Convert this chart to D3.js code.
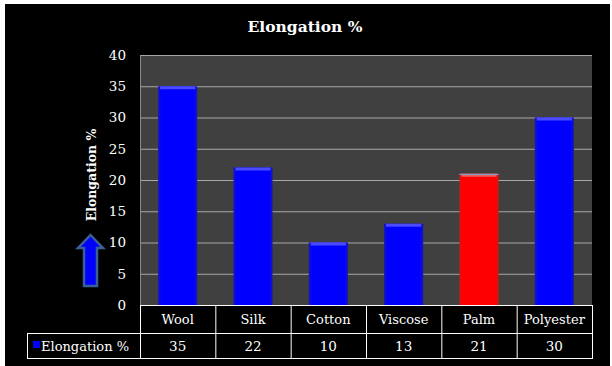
<!DOCTYPE html>
<html><head><meta charset="utf-8">
<script src="https://cdn.jsdelivr.net/npm/d3@7"></script>
<style>body{margin:0;background:#fff}svg{display:block}</style>
</head><body>
<script>
const categories = ["Wool","Silk","Cotton","Viscose","Palm","Polyester"];
const values = [35,22,10,13,21,30];
const seriesName = "Elongation %";
const yTicks = [0,5,10,15,20,25,30,35,40];
const highlight = "Palm";

const W=612,H=366;
const svg=d3.select("body").append("svg").attr("width",W).attr("height",H);
const font="'DejaVu Serif', 'Liberation Serif', serif";
svg.append("rect").attr("x",5).attr("y",4).attr("width",605).attr("height",362).attr("fill","#000");

const defs=svg.append("defs");
function grad(id,c1,c2){
  const g=defs.append("linearGradient").attr("id",id).attr("x1","0").attr("x2","1").attr("y1","0").attr("y2","0");
  g.append("stop").attr("offset","0").attr("stop-color",c2);
  g.append("stop").attr("offset","0.08").attr("stop-color",c1);
  g.append("stop").attr("offset","0.92").attr("stop-color",c1);
  g.append("stop").attr("offset","1").attr("stop-color",c2);
}
grad("gb","#0000ff","#1a1ab0");
grad("gr","#ff0000","#d01818");

const L=140,R=592,T=55,B=305;
const x=d3.scaleBand().domain(categories).range([L,R]).paddingInner(0.48).paddingOuter(0.24);
const xb=d3.scaleBand().domain(categories).range([L,R]);
const y=d3.scaleLinear().domain([0,40]).range([B,T]);

svg.append("rect").attr("x",L).attr("y",T).attr("width",R-L).attr("height",B-T).attr("fill","#404040");
svg.append("g").selectAll("line").data(yTicks).join("line")
  .attr("x1",L).attr("x2",R).attr("y1",d=>y(d)+0.5).attr("y2",d=>y(d)+0.5)
  .attr("stroke","#a8a8a8").attr("stroke-width",1);
svg.append("line").attr("x1",L+0.5).attr("x2",L+0.5).attr("y1",T).attr("y2",B).attr("stroke","#8a8a8a");

const yAxis=d3.axisLeft(y).tickValues(yTicks).tickSize(0).tickPadding(14);
const ga=svg.append("g").attr("transform",`translate(${L},0)`).call(yAxis);
ga.select(".domain").remove();
ga.selectAll("text").attr("fill","#fff").attr("font-family",font).attr("font-size",13.5);

const bars=svg.append("g").selectAll("g").data(categories).join("g");
bars.append("rect").attr("x",d=>x(d)).attr("width",x.bandwidth())
  .attr("y",(d,i)=>y(values[i])).attr("height",(d,i)=>y(0)-y(values[i]))
  .attr("fill",d=>d===highlight?"url(#gr)":"url(#gb)");
bars.append("rect").attr("x",d=>x(d)+2).attr("width",x.bandwidth()-4)
  .attr("y",(d,i)=>y(values[i])).attr("height",3)
  .attr("fill",d=>d===highlight?"#f06060":"#4a4aff");
bars.filter(d=>d===highlight).append("rect").attr("x",d=>x(d)).attr("width",x.bandwidth())
  .attr("y",(d,i)=>y(values[categories.indexOf(d)])).attr("height",1.2).attr("fill","#7fa0c8");

// title
svg.append("text").attr("x",305).attr("y",32).attr("text-anchor","middle").attr("fill","#fff")
  .attr("font-family",font).attr("font-weight","bold").attr("font-size",15.5).text(seriesName);
// y title
svg.append("text").attr("transform","translate(96,175) rotate(-90)").attr("text-anchor","middle")
  .attr("fill","#fff").attr("font-family",font).attr("font-weight","bold").attr("font-size",12.5).text(seriesName);
// arrow
svg.append("path").attr("d","M90.5,235 L103,248 L97,248 L97,286 L84,286 L84,248 L78,248 Z")
  .attr("fill","#0000ff").attr("stroke","#3a5f96").attr("stroke-width",2.5).attr("stroke-linejoin","miter");

// data table
const r1=305,r2=333,r3=358,tl=27;
const tg=svg.append("g").attr("stroke","#fff").attr("stroke-width",1).attr("fill","none");
tg.append("line").attr("x1",L).attr("x2",R).attr("y1",r1+0.5).attr("y2",r1+0.5);
tg.append("line").attr("x1",tl).attr("x2",R).attr("y1",r2+0.5).attr("y2",r2+0.5);
tg.append("line").attr("x1",tl).attr("x2",R).attr("y1",r3+0.5).attr("y2",r3+0.5);
tg.append("line").attr("x1",tl+0.5).attr("x2",tl+0.5).attr("y1",r2).attr("y2",r3+1);
const cols=categories.map(c=>xb(c)).concat([R]);
tg.selectAll("line.v").data(cols).join("line").attr("class","v")
  .attr("x1",d=>d+0.5).attr("x2",d=>d+0.5).attr("y1",r1).attr("y2",r3+1);

svg.append("g").selectAll("text").data(categories).join("text")
  .attr("x",d=>xb(d)+xb.bandwidth()/2).attr("y",(r1+r2)/2+5).attr("text-anchor","middle")
  .attr("fill","#fff").attr("font-family",font).attr("font-size",13).text(d=>d);
svg.append("g").selectAll("text").data(values).join("text")
  .attr("x",(d,i)=>xb(categories[i])+xb.bandwidth()/2).attr("y",(r2+r3)/2+5).attr("text-anchor","middle")
  .attr("fill","#fff").attr("font-family",font).attr("font-size",13.5).text(d=>d);
svg.append("rect").attr("x",33).attr("y",341).attr("width",7).attr("height",7).attr("fill","url(#gb)");
svg.append("text").attr("x",41).attr("y",(r2+r3)/2+5).attr("fill","#fff").attr("font-family",font)
  .attr("font-size",13).attr("textLength",null).text(seriesName);
</script>
</body></html>
